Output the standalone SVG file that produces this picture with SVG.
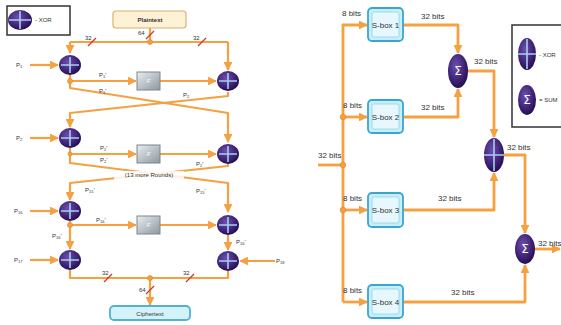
<svg xmlns="http://www.w3.org/2000/svg" width="561" height="325" viewBox="0 0 561 325">
<defs>
<radialGradient id="pg" cx="0.4" cy="0.35" r="0.7">
<stop offset="0" stop-color="#6d4fb0"/>
<stop offset="1" stop-color="#22094f"/>
</radialGradient>
<linearGradient id="fg" x1="0" y1="0" x2="1" y2="1">
<stop offset="0" stop-color="#e8edf0"/>
<stop offset="1" stop-color="#8e989f"/>
</linearGradient>
<marker id="ar" viewBox="0 0 10 10" refX="9" refY="5" markerWidth="4" markerHeight="4" orient="auto">
<path d="M0,0 L10,5 L0,10 z" fill="#f5a142"/>
</marker>
<marker id="ar2" viewBox="0 0 10 10" refX="9" refY="5" markerWidth="3.2" markerHeight="3.2" orient="auto">
<path d="M0,0 L10,5 L0,10 z" fill="#f5a142"/>
</marker>
</defs>
<style>
.w{fill:none;stroke:#f5a142;stroke-width:2.2;stroke-linejoin:round}
.w2{fill:none;stroke:#f5a142;stroke-width:2.8;stroke-linejoin:round}
.x{fill:url(#pg)}
.xc{stroke:#a9cdf2;stroke-width:1.6;fill:none}
.sg{fill:#ffffff;font-family:"DejaVu Sans",sans-serif;font-size:12px;text-anchor:middle}
.t{font-family:"Liberation Sans",sans-serif;font-size:6px;fill:#333}
.tb{font-family:"Liberation Sans",sans-serif;font-size:8px;fill:#333}
.sl{stroke:#d2372f;stroke-width:1.2}
.dot{fill:#f5a142;stroke:#e07f1a;stroke-width:0.6}
.f{fill:url(#fg);stroke:#7d868e;stroke-width:1}
.ft{font-family:"Liberation Sans",sans-serif;font-size:6px;font-style:italic;fill:#fff;text-anchor:middle}
.sb{fill:#c7eef9;stroke:#3aa6cf;stroke-width:1.8}
.sbi{fill:#e6f8fd;stroke:#8fd3ea;stroke-width:0.8}
.lg{fill:#fff;stroke:#333;stroke-width:1.5}
</style>

<g id="connectors">
<path class="w" d="M150,28 V42"/>
<path class="w" d="M70,42 H228"/>
<path class="w" d="M70,42 V53" marker-end="url(#ar)"/>
<path class="w" d="M228,42 V70" marker-end="url(#ar)"/>
<path class="w" d="M30,65 H58" marker-end="url(#ar)"/>
<path class="w" d="M70,75 V81 H136" marker-end="url(#ar)"/>
<path class="w" d="M160,81 H216" marker-end="url(#ar)"/>
<path class="w" d="M70,81 V88 L228,113 V142" marker-end="url(#ar)"/>
<path class="w" d="M228,92 V96 L70,113 V127" marker-end="url(#ar)"/>
<path class="w" d="M30,138 H58" marker-end="url(#ar)"/>
<path class="w" d="M70,148 V154 H136" marker-end="url(#ar)"/>
<path class="w" d="M160,154 H216" marker-end="url(#ar)"/>
<path class="w" d="M70,154 V163 L228,183 V212" marker-end="url(#ar)"/>
<path class="w" d="M228,164 V166 L70,183 V200" marker-end="url(#ar)"/>
<path class="w" d="M30,211 H58" marker-end="url(#ar)"/>
<path class="w" d="M70,221 V225 H136" marker-end="url(#ar)"/>
<path class="w" d="M160,225 H216" marker-end="url(#ar)"/>
<path class="w" d="M70,225 V249" marker-end="url(#ar)"/>
<path class="w" d="M30,260 H58" marker-end="url(#ar)"/>
<path class="w" d="M228,235 V250" marker-end="url(#ar)"/>
<path class="w" d="M275,261 H240" marker-end="url(#ar)"/>
<path class="w" d="M70,270 V278 H228 V271"/>
<path class="w" d="M150,278 V305" marker-end="url(#ar)"/>
<line class="sl" x1="146" y1="39" x2="154" y2="31"/>
<line class="sl" x1="88" y1="46" x2="96" y2="38"/>
<line class="sl" x1="198" y1="46" x2="206" y2="38"/>
<line class="sl" x1="104" y1="282" x2="112" y2="274"/>
<line class="sl" x1="186" y1="282" x2="194" y2="274"/>
<line class="sl" x1="146" y1="294" x2="154" y2="286"/>
<circle class="dot" cx="150" cy="42" r="2.5"/>
<circle class="dot" cx="70" cy="81" r="2.5"/>
<circle class="dot" cx="70" cy="154" r="2"/>
<circle class="dot" cx="70" cy="225" r="2.5"/>
<circle class="dot" cx="150" cy="278" r="2.5"/>

<path class="w2" d="M318,165 H343"/>
<path class="w2" d="M343,302 V25 H367" marker-end="url(#ar2)"/>
<path class="w2" d="M343,117 H367" marker-end="url(#ar2)"/>
<path class="w2" d="M343,210 H367" marker-end="url(#ar2)"/>
<path class="w2" d="M343,302 H367" marker-end="url(#ar2)"/>
<path class="w2" d="M403,25 H458 V53" marker-end="url(#ar2)"/>
<path class="w2" d="M403,117 H458 V89" marker-end="url(#ar2)"/>
<path class="w2" d="M468,71 H494 V137" marker-end="url(#ar2)"/>
<path class="w2" d="M403,210 H494 V173" marker-end="url(#ar2)"/>
<path class="w2" d="M504,155 H525 V233" marker-end="url(#ar2)"/>
<path class="w2" d="M403,302 H525 V265" marker-end="url(#ar2)"/>
<path class="w2" d="M535,249 H560" marker-end="url(#ar2)"/>
<circle class="dot" cx="343" cy="117" r="2.8"/>
<circle class="dot" cx="343" cy="165" r="2.8"/>
<circle class="dot" cx="343" cy="210" r="2.8"/>
</g>

<g id="legend-left">
<rect class="lg" x="7" y="6" width="63" height="29"/>
<ellipse class="x" cx="20" cy="20" rx="12" ry="10"/>
<path class="xc" d="M20,11 V29 M9,20 H31"/>
<text class="t" x="35" y="22">- XOR</text>
</g>

<g id="plaintext">
<rect x="113" y="11" width="73" height="17" rx="3" fill="#fdf1d6" stroke="#d6b46f" stroke-width="1.2"/>
<text class="t" x="150" y="22" text-anchor="middle" font-weight="bold">Plaintext</text>
</g>

<g id="ciphertext">
<rect x="110" y="306" width="80" height="14" rx="4" fill="#d5f1fa" stroke="#4fb2d6" stroke-width="1.8"/>
<text class="t" x="150" y="315.5" text-anchor="middle">Ciphertext</text>
</g>

<g id="xor-l1"><ellipse class="x" cx="70" cy="65" rx="11" ry="10"/><path class="xc" d="M70,57 V73 M61,65 H79"/></g>
<g id="xor-r1"><ellipse class="x" cx="228" cy="81" rx="11" ry="10"/><path class="xc" d="M228,73 V89 M219,81 H237"/></g>
<g id="xor-l2"><ellipse class="x" cx="70" cy="138" rx="11" ry="10"/><path class="xc" d="M70,130 V146 M61,138 H79"/></g>
<g id="xor-r2"><ellipse class="x" cx="228" cy="154" rx="11" ry="10"/><path class="xc" d="M228,146 V162 M219,154 H237"/></g>
<g id="xor-l3"><ellipse class="x" cx="70" cy="211" rx="11" ry="10"/><path class="xc" d="M70,203 V219 M61,211 H79"/></g>
<g id="xor-r3"><ellipse class="x" cx="228" cy="225" rx="11" ry="10"/><path class="xc" d="M228,217 V233 M219,225 H237"/></g>
<g id="xor-l4"><ellipse class="x" cx="70" cy="260" rx="11" ry="10"/><path class="xc" d="M70,252 V268 M61,260 H79"/></g>
<g id="xor-r4"><ellipse class="x" cx="228" cy="261" rx="11" ry="10"/><path class="xc" d="M228,253 V269 M219,261 H237"/></g>

<g id="f1"><rect class="f" x="137" y="72" width="23" height="18"/><text class="ft" x="148.5" y="83">F</text></g>
<g id="f2"><rect class="f" x="137" y="145" width="23" height="18"/><text class="ft" x="148.5" y="156">F</text></g>
<g id="f3"><rect class="f" x="137" y="216" width="23" height="18"/><text class="ft" x="148.5" y="227">F</text></g>

<g id="labels-left">
<text class="t" x="85" y="40">32</text>
<text class="t" x="193" y="40">32</text>
<text class="t" x="138" y="35">64</text>
<text class="t" x="16" y="67">P<tspan font-size="4" dy="1">1</tspan></text>
<text class="t" x="99" y="77">P<tspan font-size="4" dy="1">1</tspan><tspan dy="-1">'</tspan></text>
<text class="t" x="99" y="93">P<tspan font-size="4" dy="1">1</tspan><tspan dy="-1">'</tspan></text>
<text class="t" x="183" y="97">P<tspan font-size="4" dy="1">2</tspan></text>
<text class="t" x="16" y="140">P<tspan font-size="4" dy="1">2</tspan></text>
<text class="t" x="100" y="150">P<tspan font-size="4" dy="1">2</tspan><tspan dy="-1">'</tspan></text>
<text class="t" x="100" y="162">P<tspan font-size="4" dy="1">2</tspan><tspan dy="-1">'</tspan></text>
<text class="t" x="196" y="166">P<tspan font-size="4" dy="1">2</tspan><tspan dy="-1">'</tspan></text>
<rect x="114" y="171" width="70" height="8" fill="#fff" opacity="0.85"/>
<text class="t" x="149" y="177" text-anchor="middle">(13 more Rounds)</text>
<text class="t" x="85" y="192">P<tspan font-size="4" dy="1">15</tspan><tspan dy="-1">'</tspan></text>
<text class="t" x="196" y="193">P<tspan font-size="4" dy="1">15</tspan><tspan dy="-1">'</tspan></text>
<text class="t" x="14" y="213">P<tspan font-size="4" dy="1">16</tspan></text>
<text class="t" x="96" y="222">P<tspan font-size="4" dy="1">16</tspan><tspan dy="-1">'</tspan></text>
<text class="t" x="52" y="238">P<tspan font-size="4" dy="1">16</tspan><tspan dy="-1">'</tspan></text>
<text class="t" x="14" y="262">P<tspan font-size="4" dy="1">17</tspan></text>
<text class="t" x="236" y="244">P<tspan font-size="4" dy="1">16</tspan><tspan dy="-1">'</tspan></text>
<text class="t" x="276" y="263">P<tspan font-size="4" dy="1">18</tspan></text>
<text class="t" x="102" y="275">32</text>
<text class="t" x="183" y="275">32</text>
<text class="t" x="139" y="292">64</text>
</g>

<g id="sbox1"><rect class="sb" x="368" y="8" width="35" height="33" rx="4"/><rect class="sbi" x="372" y="12" width="27" height="25" rx="2"/><text class="tb" x="385.5" y="28" text-anchor="middle" font-size="7">S-box 1</text></g>
<g id="sbox2"><rect class="sb" x="368" y="100" width="35" height="33" rx="4"/><rect class="sbi" x="372" y="104" width="27" height="25" rx="2"/><text class="tb" x="385.5" y="120" text-anchor="middle" font-size="7">S-box 2</text></g>
<g id="sbox3"><rect class="sb" x="368" y="193" width="35" height="34" rx="4"/><rect class="sbi" x="372" y="197" width="27" height="26" rx="2"/><text class="tb" x="385.5" y="213" text-anchor="middle" font-size="7">S-box 3</text></g>
<g id="sbox4"><rect class="sb" x="368" y="285" width="35" height="33" rx="4"/><rect class="sbi" x="372" y="289" width="27" height="25" rx="2"/><text class="tb" x="385.5" y="305" text-anchor="middle" font-size="7">S-box 4</text></g>

<g id="sum1"><ellipse class="x" cx="458" cy="71" rx="10" ry="17"/><text class="sg" x="458" y="75">Σ</text></g>
<g id="xor-main"><ellipse class="x" cx="494" cy="155" rx="10" ry="17"/><path class="xc" d="M494,139 V171 M484,155 H504"/></g>
<g id="sum2"><ellipse class="x" cx="525" cy="249" rx="10" ry="15"/><text class="sg" x="525" y="253">Σ</text></g>

<g id="legend-right">
<rect class="lg" x="512" y="25" width="54" height="102"/>
<ellipse class="x" cx="527" cy="54" rx="9" ry="16"/>
<path class="xc" d="M527,39 V69 M518,54 H536"/>
<text class="t" x="539" y="57">- XOR</text>
<ellipse class="x" cx="527" cy="100" rx="9" ry="15"/>
<text class="sg" x="527" y="104">Σ</text>
<text class="t" x="539" y="102">= SUM</text>
</g>

<g id="labels-right">
<text class="tb" x="342" y="16">8 bits</text>
<text class="tb" x="343" y="108">8 bits</text>
<text class="tb" x="343" y="201">8 bits</text>
<text class="tb" x="343" y="293">8 bits</text>
<text class="tb" x="318" y="158">32 bits</text>
<text class="tb" x="421" y="19">32 bits</text>
<text class="tb" x="421" y="110">32 bits</text>
<text class="tb" x="474" y="64">32 bits</text>
<text class="tb" x="507" y="150">32 bits</text>
<text class="tb" x="438" y="201">32 bits</text>
<text class="tb" x="538" y="246">32 bits</text>
<text class="tb" x="451" y="295">32 bits</text>
</g>
</svg>
